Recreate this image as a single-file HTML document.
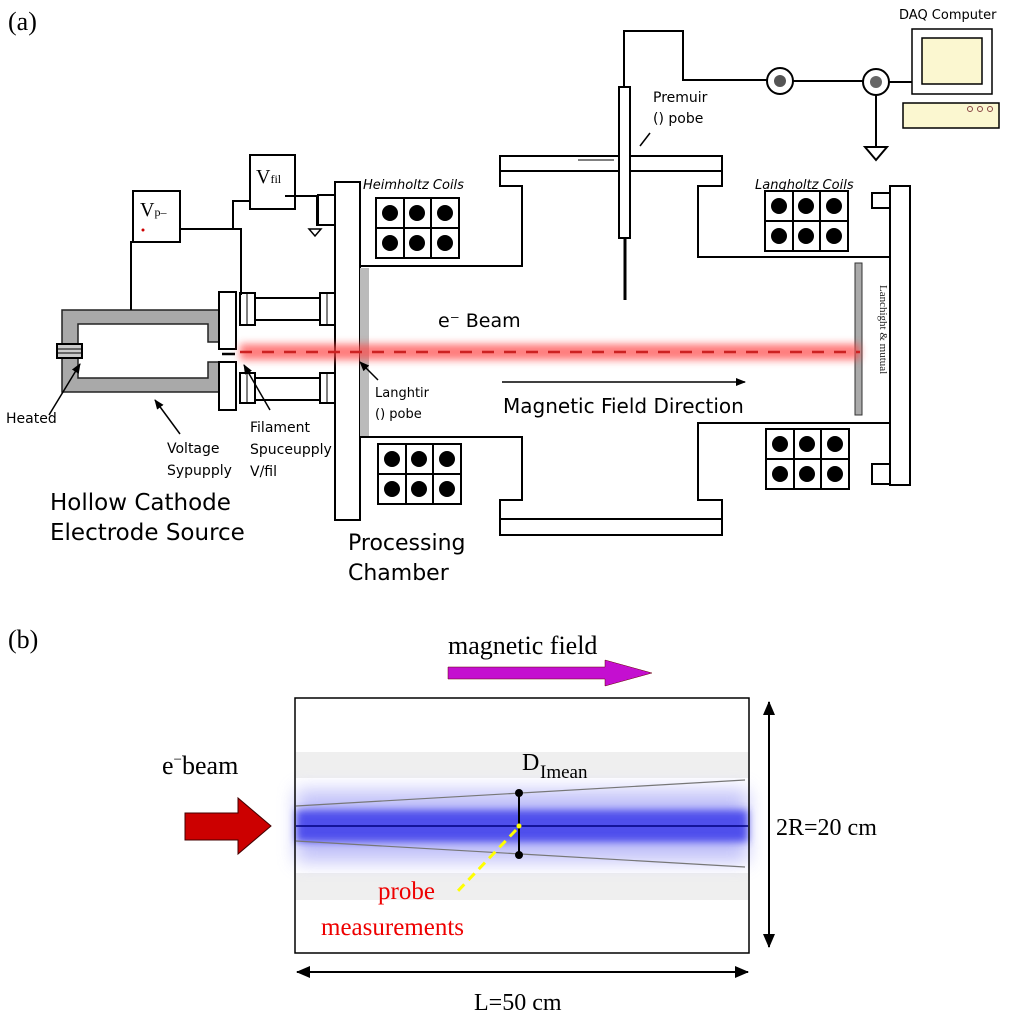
<!DOCTYPE html>
<html><head><meta charset="utf-8"><style>
body{margin:0;background:#fff}
svg{display:block}
text{font-family:"DejaVu Sans","Liberation Sans",sans-serif}
.s{font-family:"Liberation Serif",serif}
</style></head><body>
<svg width="1024" height="1024" viewBox="0 0 1024 1024" xmlns="http://www.w3.org/2000/svg">
<defs>
<filter id="blur" x="-5%" y="-200%" width="110%" height="500%"><feGaussianBlur stdDeviation="4"/></filter>
<filter id="blur2" x="-5%" y="-100%" width="110%" height="300%"><feGaussianBlur stdDeviation="9"/></filter>
<marker id="ah" markerWidth="10" markerHeight="10" refX="9" refY="5" orient="auto" markerUnits="userSpaceOnUse"><path d="M0,1 L10,5 L0,9 Z" fill="#000"/></marker>
<marker id="ah2" markerWidth="14" markerHeight="14" refX="13" refY="7" orient="auto-start-reverse" markerUnits="userSpaceOnUse"><path d="M0,1 L14,7 L0,13 Z" fill="#000"/></marker>
</defs>
<g fill="none" stroke="#000" stroke-width="2">
<text x="8" y="30" font-size="26" class="s" fill="#000" stroke="none">(a)</text>
<path d="M62,310 H220 V342 H208 V324 H78 V378 H208 V362 H220 V392 H62 Z" fill="#a9a9a9" stroke="#222" stroke-width="1.5"/>
<rect x="57" y="344" width="25" height="14" fill="#ccc"/>
<line x1="57" y1="349" x2="82" y2="349" stroke-width="1"/><line x1="57" y1="353" x2="82" y2="353" stroke-width="1"/>
<rect x="219" y="292" width="17" height="57" fill="#fff"/>
<rect x="219" y="362" width="17" height="48" fill="#fff"/>
<line x1="222" y1="354" x2="235" y2="354" stroke-width="2.5"/>
<rect x="240" y="293" width="15" height="32" fill="#fff"/><rect x="255" y="298" width="65" height="22" fill="#fff"/><rect x="320" y="293" width="15" height="32" fill="#fff"/>
<rect x="240" y="373" width="15" height="30" fill="#fff"/><rect x="255" y="378" width="65" height="22" fill="#fff"/><rect x="320" y="373" width="15" height="30" fill="#fff"/>
<line x1="247" y1="293" x2="247" y2="325" stroke-width="1"/><line x1="327" y1="293" x2="327" y2="325" stroke-width="1"/>
<line x1="247" y1="373" x2="247" y2="403" stroke-width="1"/><line x1="327" y1="373" x2="327" y2="403" stroke-width="1"/>
<rect x="133" y="191" width="47" height="51" fill="#fff"/>
<rect x="250" y="155" width="45" height="54" fill="#fff"/>
<path d="M131,310 V242 H133"/>
<path d="M180,229 H241 V295"/>
<path d="M233,229 V201 H250"/>
<path d="M285,196 H317 V225 H335 M317,196 H335"/>
<rect x="318" y="195" width="17" height="30" fill="#fff"/>
<path d="M309,229 L321,229 L315,236 Z" stroke-width="1.5"/>
<rect x="335" y="182" width="25" height="338" fill="#fff"/>
<rect x="360" y="268" width="9" height="168" fill="#bbb" stroke="none"/>
<path d="M360,266 H522 V186 H500 V156 H722 V186 H698 V257 H890"/>
<line x1="500" y1="171" x2="722" y2="171"/>
<path d="M360,437 H522 V500 H500 V535 H722 V500 H698 V423 H890"/>
<line x1="500" y1="519" x2="722" y2="519"/>
<rect x="890" y="186" width="20" height="299" fill="#fff"/>
<path d="M890,193 H872 V208 H890 M890,464 H872 V484 H890"/>
<rect x="855" y="263" width="7" height="152" fill="#aaa" stroke="#333" stroke-width="1"/>
<text transform="translate(880,285) rotate(90)" font-size="11" fill="#222" stroke="none" class="s">Lanchight &amp; mutual</text>
<g id="coil"><rect x="376" y="198" width="83" height="60" fill="#fff"/><line x1="404" y1="198" x2="404" y2="258"/><line x1="431" y1="198" x2="431" y2="258"/><line x1="376" y1="228" x2="459" y2="228"/>
<g fill="#000" stroke="none"><circle cx="390" cy="213" r="8"/><circle cx="417" cy="213" r="8"/><circle cx="445" cy="213" r="8"/><circle cx="390" cy="243" r="8"/><circle cx="417" cy="243" r="8"/><circle cx="445" cy="243" r="8"/></g></g>
<use href="#coil" transform="translate(2,246)"/>
<use href="#coil" transform="translate(389,-7)"/>
<use href="#coil" transform="translate(390,231)"/>
<rect x="619" y="87" width="11" height="151" fill="#fff"/>
<line x1="625" y1="238" x2="625" y2="300" stroke-width="3"/>
<line x1="578" y1="160" x2="614" y2="160" stroke-width="1"/>
<line x1="640" y1="146" x2="650" y2="133" stroke-width="1.5"/>
<path d="M624,87 V31 H683 V80 H767 M793,81 H863 M889,82 H912"/>
<circle cx="780" cy="81" r="13" fill="#fff"/><circle cx="780" cy="81" r="6" fill="#555" stroke="none"/>
<circle cx="876" cy="82" r="13" fill="#fff"/><circle cx="876" cy="82" r="6" fill="#666" stroke="none"/>
<path d="M876,95 V147 M865,147 H887 L876,160 Z"/>
<rect x="912" y="29" width="80" height="65" fill="#fff" stroke-width="1.5"/>
<rect x="922" y="38" width="60" height="46" fill="#fbf7d0" stroke-width="1.5"/>
<rect x="903" y="103" width="96" height="25" fill="#fbf7d0" stroke-width="1.5"/>
<g stroke="#844" stroke-width="1"><circle cx="970" cy="109" r="2.5"/><circle cx="980" cy="109" r="2.5"/><circle cx="990" cy="109" r="2.5"/></g>
<rect x="240" y="344" width="620" height="16" fill="#f44" stroke="none" opacity="0.7" filter="url(#blur)"/>
<line x1="240" y1="352" x2="860" y2="352" stroke="#c22" stroke-width="2.5" stroke-dasharray="12,10"/>
<line x1="502" y1="382" x2="745" y2="382" stroke-width="1.5" marker-end="url(#ah)"/>
<line x1="49" y1="415" x2="80" y2="364" stroke-width="1.5" marker-end="url(#ah)"/>
<line x1="180" y1="434" x2="155" y2="400" stroke-width="1.5" marker-end="url(#ah)"/>
<line x1="270" y1="410" x2="244" y2="365" stroke-width="1.5" marker-end="url(#ah)"/>
<line x1="378" y1="380" x2="360" y2="362" stroke-width="1.5" marker-end="url(#ah)"/>
</g>
<g fill="#000">
<text x="140" y="216" font-size="20" class="s">V<tspan font-size="12">p–</tspan></text>
<text x="256" y="183" font-size="20" class="s">V<tspan font-size="12">fil</tspan></text>
<circle cx="143" cy="230" r="1.5" fill="#c00"/>
<text x="363" y="189" font-size="13" font-style="italic">Heimholtz Coils</text>
<text x="755" y="189" font-size="13" font-style="italic">Langholtz Coils</text>
<text x="899" y="19" font-size="13">DAQ Computer</text>
<text x="653" y="102" font-size="14">Premuir</text>
<text x="653" y="123" font-size="14">() pobe</text>
<text x="438" y="327" font-size="19">e⁻ Beam</text>
<text x="503" y="413" font-size="20">Magnetic Field Direction</text>
<text x="375" y="397" font-size="13">Langhtir</text>
<text x="375" y="418" font-size="13">() pobe</text>
<text x="6" y="423" font-size="14">Heated</text>
<text x="167" y="453" font-size="14">Voltage</text>
<text x="167" y="475" font-size="14">Sypupply</text>
<text x="250" y="432" font-size="14">Filament</text>
<text x="250" y="454" font-size="14">Spuceupply</text>
<text x="250" y="476" font-size="14">V/fil</text>
<text x="50" y="510" font-size="23">Hollow Cathode</text>
<text x="50" y="540" font-size="23">Electrode Source</text>
<text x="348" y="550" font-size="22">Processing</text>
<text x="348" y="580" font-size="22">Chamber</text>
</g>
<text x="8" y="648" font-size="26" class="s">(b)</text>
<text x="448" y="654" font-size="26" class="s">magnetic field</text>
<path d="M448,667 H605 V660 L652,673 L605,686 V679 H448 Z" fill="#c40fd0" stroke="#600" stroke-width="0.5"/>
<rect x="295" y="698" width="454" height="255" fill="#fff"/>
<rect x="296" y="752" width="452" height="26" fill="#efefef"/>
<rect x="296" y="873" width="452" height="27" fill="#efefef"/>
<rect x="296" y="790" width="452" height="72" fill="#9a9af5" opacity="0.6" filter="url(#blur2)"/>
<rect x="296" y="810" width="452" height="32" fill="#3a3aea" opacity="0.85" filter="url(#blur)"/>
<line x1="296" y1="826" x2="748" y2="826" stroke="#000080" stroke-width="1.5"/>
<line x1="296" y1="806" x2="745" y2="780" stroke="#777" stroke-width="1.2"/>
<line x1="296" y1="841" x2="745" y2="867" stroke="#777" stroke-width="1.2"/>
<rect x="295" y="698" width="454" height="255" fill="none" stroke="#000" stroke-width="1.5"/>
<line x1="519" y1="793" x2="519" y2="855" stroke="#000" stroke-width="2"/>
<circle cx="519" cy="793" r="4"/><circle cx="519" cy="855" r="4"/>
<circle cx="519" cy="826" r="2.5" fill="#ff0"/>
<line x1="516" y1="830" x2="456" y2="893" stroke="#ff0" stroke-width="3" stroke-dasharray="9,6"/>
<text x="378" y="899" font-size="25" class="s" fill="#e00">probe</text>
<text x="321" y="935" font-size="25" class="s" fill="#e00">measurements</text>
<text x="522" y="770" font-size="24" class="s">D</text>
<text x="540" y="778" font-size="19" class="s">Imean</text>
<text x="162" y="774" font-size="26" class="s">e<tspan font-size="15" dy="-10">−</tspan><tspan dy="10">beam</tspan></text>
<path d="M185,813 H238 V798 L271,826 L238,854 V840 H185 Z" fill="#c00" stroke="#400" stroke-width="1"/>
<line x1="769" y1="702" x2="769" y2="947" stroke="#000" stroke-width="2" marker-start="url(#ah2)" marker-end="url(#ah2)"/>
<text x="776" y="835" font-size="24" class="s">2R=20 cm</text>
<line x1="297" y1="972" x2="748" y2="972" stroke="#000" stroke-width="2" marker-start="url(#ah2)" marker-end="url(#ah2)"/>
<text x="474" y="1010" font-size="24" class="s">L=50 cm</text>
</svg>
</body></html>
